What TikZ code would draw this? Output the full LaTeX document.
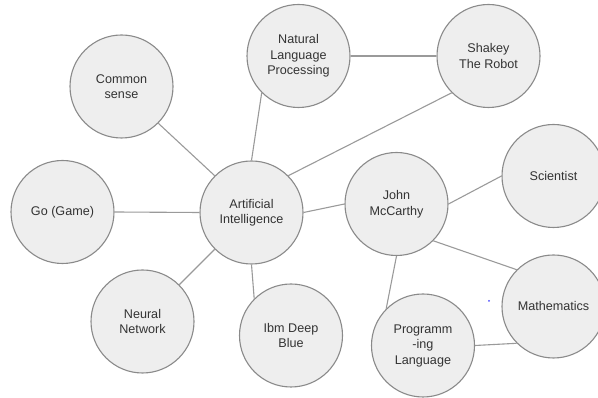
\documentclass[tikz,border=0pt]{standalone}
\usepackage{fontspec}
\setmainfont{Liberation Sans}
\usepackage{xcolor}
\usetikzlibrary{positioning,calc}

\definecolor{bubblefill}{HTML}{EEEEEE}
\definecolor{bubbleline}{HTML}{8A8A8A}
\definecolor{linkline}{HTML}{9A9A9A}
\definecolor{labeltext}{HTML}{333333}

\tikzset{
    topic/.style={circle, draw=bubbleline, fill=bubblefill, line width=1.1pt,
        minimum size=103pt, inner sep=0pt, align=center, text=labeltext,
        font=\fontsize{12.6}{15.5}\selectfont},
    link/.style={draw=linkline, line width=1.1pt}
}

\begin{document}
\begin{tikzpicture}[x=1pt, y=1pt]
    \useasboundingbox (0,0) rectangle (598,398);

    % Topics around AI
    \node[topic] (common) at (121.5,311.5) {Common\\sense};
    \node[topic] (nlp) at (298.5,342) {Natural\\Language\\Processing};
    \node[topic] (shakey) at (488.5,342) {Shakey\\The Robot};
    \node[topic] (go) at (62.5,186) {Go (Game)};
    \node[topic] (ai) at (251.5,185.5) {Artificial\\Intelligence};
    \node[topic] (neural) at (142.5,76.5) {Neural\\Network};
    \node[topic] (ibm) at (291,62.5) {Ibm Deep\\Blue};

    % John McCarthy and related
    \node[topic] (john) at (396.5,194) {John\\McCarthy};
    \node[topic] (sci) at (553.5,222) {Scientist};
    \node[topic] (prog) at (423,52.5) {Programm\\-ing\\Language};
    \node[topic] (math) at (553.5,91.5) {Mathematics};

    % Links from AI
    \draw[link] (ai.135) -- (common.-45);
    \draw[link] (ai.90) -- (nlp.-135);
    \draw[link] (ai.45) -- (shakey.-135);
    \draw[link] (ai.180) -- (go.0);
    \draw[link] (ai.-135) -- (neural.45);
    \draw[link] (ai.-90) -- (ibm.135);
    \draw[link] (ai.0) -- (john.180);
    \draw[link] (nlp.0) -- (shakey.180);

    % Links from John McCarthy
    \draw[link] (john.0) -- (sci.180);
    \draw[link] (john.-45) -- (math.135);
    \draw[link] (john.-90) -- (prog.135);
    \draw[link] (prog.0) -- (math.-135);

    % stray dot
    \fill[blue!70] (489,97) circle (1pt);
\end{tikzpicture}
\end{document}
